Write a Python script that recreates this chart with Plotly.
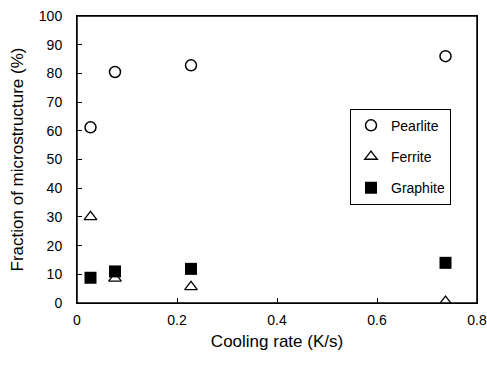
import plotly.graph_objects as go

cooling_rate = [0.027, 0.076, 0.228, 0.737]
pearlite = [61.2, 80.5, 82.8, 86.0]
ferrite = [30.0, 8.6, 5.6, 0.5]
graphite = [8.8, 11.0, 11.9, 14.0]

FONT = "Liberation Sans, Arial, sans-serif"

fig = go.Figure()
fig.add_trace(go.Scatter(x=cooling_rate, y=pearlite, mode="markers", name="Pearlite",
                         legendgroup="p",
                         marker=dict(symbol="circle-open", size=11, color="black", line=dict(width=1.5, color="black"))))
fig.add_trace(go.Scatter(x=cooling_rate, y=ferrite, mode="markers", name="Ferrite",
                         legendgroup="f",
                         marker=dict(symbol="triangle-up-open", size=11, color="black", line=dict(width=1.3, color="black"))))
fig.add_trace(go.Scatter(x=cooling_rate, y=graphite, mode="markers", name="Graphite",
                         legendgroup="g",
                         marker=dict(symbol="square", size=12, color="black", line=dict(width=0))))

fig.update_layout(
    width=487, height=367,
    margin=dict(l=77, r=10, t=16, b=64),
    paper_bgcolor="white", plot_bgcolor="white",
    font=dict(family=FONT, size=14, color="black"),
    showlegend=True,
    legend=dict(x=0.6825, y=0.677, xanchor="left", yanchor="top",
                bordercolor="black", borderwidth=1, bgcolor="white",
                tracegroupgap=10, itemwidth=30,
                font=dict(family=FONT, size=14, color="black")),
    xaxis=dict(range=[0, 0.8], dtick=0.2, tick0=0, ticks="inside", ticklen=5,
               tickcolor="black", showline=True, linecolor="black", linewidth=1, mirror=True,
               showgrid=False, zeroline=False, tickformat="~g", automargin=False,
               ticklabelstandoff=4, ticklabeloverflow="allow",
               title=dict(text="Cooling rate (K/s)", font=dict(size=17), standoff=8)),
    yaxis=dict(range=[0, 100], dtick=10, tick0=0, ticks="inside", ticklen=5,
               tickcolor="black", showline=True, linecolor="black", linewidth=1, mirror=True,
               showgrid=False, zeroline=False, ticklabelstandoff=11, automargin=False,
               ticklabeloverflow="allow",
               title=dict(text="Fraction of microstructure (%)", font=dict(size=17), standoff=10)),
    shapes=[dict(type="rect", xref="paper", yref="paper", x0=0, x1=1, y0=0, y1=1,
                 line=dict(color="black", width=1.5), fillcolor="rgba(0,0,0,0)", layer="above")],
)

fig.write_html("out.html",
               config={"displayModeBar": False},
               post_script="document.body.style.margin='0';document.body.style.overflow='hidden';")
